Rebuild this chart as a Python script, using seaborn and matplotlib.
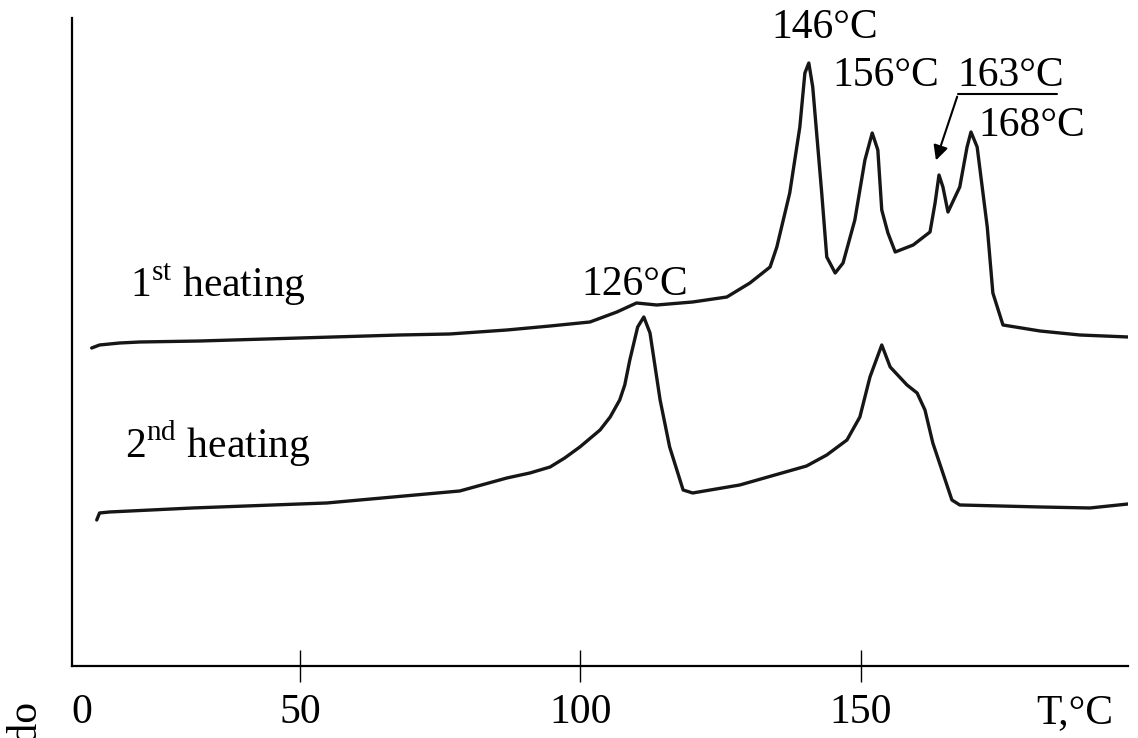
import matplotlib
matplotlib.use("Agg")
import matplotlib.pyplot as plt
import pandas as pd
import seaborn as sns

# DSC traces (temperature in the axis units, heat flow in a.u.)
t_first = [12.9, 14.3, 17.9, 21.5, 32.2, 50.0, 67.8, 76.7, 86.9, 94.6, 101.7, 106.5,
           110.0, 113.6, 120.0, 126.1, 130.2, 133.8, 135.0, 137.3, 139.1, 140.0, 140.7,
           141.4, 143.0, 143.9, 145.4, 146.8, 148.9, 150.7, 152.0, 153.0, 153.7, 154.8,
           156.1, 159.3, 162.3, 163.2, 163.9, 164.6, 165.5, 167.6, 168.9, 169.6, 170.7,
           172.5, 173.5, 175.3, 181.9, 189.0, 197.6]
hf_first = [3.18, 3.21, 3.23, 3.24, 3.25, 3.28, 3.31, 3.32, 3.36, 3.40, 3.44, 3.54,
            3.63, 3.61, 3.64, 3.69, 3.83, 3.99, 4.19, 4.73, 5.39, 5.93, 6.03,
            5.79, 4.73, 4.09, 3.93, 4.03, 4.46, 5.06, 5.33, 5.16, 4.56, 4.33,
            4.14, 4.21, 4.34, 4.63, 4.91, 4.79, 4.54, 4.79, 5.19, 5.34, 5.19,
            4.39, 3.73, 3.41, 3.35, 3.31, 3.29]

t_second = [13.8, 14.3, 16.1, 30.9, 54.8, 78.5, 86.9, 91.0, 94.6, 97.2, 99.9, 103.5,
            105.3, 107.0, 107.9, 108.8, 110.2, 111.3, 112.4, 114.2, 115.9, 118.3, 120.0,
            128.4, 140.3, 143.9, 147.5, 149.8, 151.6, 153.7, 155.2, 158.2, 160.0, 161.4,
            162.8, 166.2, 167.6, 181.9, 190.8, 197.6]
hf_second = [1.46, 1.53, 1.54, 1.58, 1.63, 1.75, 1.88, 1.93, 1.99, 2.08, 2.19, 2.36,
             2.49, 2.66, 2.81, 3.06, 3.39, 3.49, 3.33, 2.66, 2.19, 1.76, 1.73,
             1.81, 2.00, 2.11, 2.26, 2.49, 2.89, 3.21, 2.99, 2.81, 2.73, 2.56,
             2.23, 1.66, 1.61, 1.59, 1.58, 1.62]

x_ticks = [50, 100, 150]
x_tick_labels = ["50", "100", "150"]

df = pd.concat([
    pd.DataFrame({"T": t_first, "hf": hf_first, "run": "1st"}),
    pd.DataFrame({"T": t_second, "hf": hf_second, "run": "2nd"}),
])

sns.set_style("white")
plt.rcParams["font.family"] = ["Liberation Serif", "DejaVu Serif"]
plt.rcParams["mathtext.fontset"] = "custom"
plt.rcParams["mathtext.rm"] = "Liberation Serif"
plt.rcParams["text.color"] = "black"
plt.rcParams["xtick.color"] = "black"

fig = plt.figure(figsize=(11.38, 7.38), dpi=100)
ax = fig.add_axes([0.0633, 0.0976, 0.928, 0.878])

sns.lineplot(data=df, x="T", y="hf", units="run", estimator=None, sort=False,
             color="#161616", linewidth=2.4, ax=ax)

ax.set_xlim(9.4, 197.6)
ax.set_ylim(0, 6.48)
ax.set_xlabel("")
ax.set_ylabel("")
ax.set_yticks([])
ax.set_xticks(x_ticks)
ax.set_xticklabels(x_tick_labels, fontsize=30)
ax.tick_params(axis="x", bottom=True, direction="inout", length=23, width=1.0,
               color="black", labelcolor="black", pad=8)

for side in ["top", "right"]:
    ax.spines[side].set_visible(False)
for side in ["left", "bottom"]:
    ax.spines[side].set_color("black")
    ax.spines[side].set_linewidth(1.6)

fs = 30
# peak labels
ax.text(143.6, 6.38, "146°C", fontsize=fs, ha="center", va="center")
ax.text(154.5, 5.90, "156°C", fontsize=fs, ha="center", va="center")
ax.text(176.6, 5.90, "163°C", fontsize=fs, ha="center", va="center")
ax.text(180.5, 5.40, "168°C", fontsize=fs, ha="center", va="center")
ax.text(109.7, 3.81, "126°C", fontsize=fs, ha="center", va="center")

# underline and arrow for the small 163 peak
ax.plot([167.3, 184.9], [5.72, 5.72], color="black", linewidth=1.5)
ax.annotate("", xy=(163.2, 5.03), xytext=(167.3, 5.72),
            arrowprops=dict(arrowstyle="-|>", color="black", lw=1.5, mutation_scale=22))

# curve labels
ax.text(19.7, 3.69, r"1$^{\mathrm{st}}$ heating", fontsize=fs, ha="left", va="baseline")
ax.text(18.8, 2.08, r"2$^{\mathrm{nd}}$ heating", fontsize=fs, ha="left", va="baseline")

# origin label and axis name in line with tick labels
ax.text(11.1, -0.47, "0", fontsize=fs, ha="center", va="center", clip_on=False)
ax.text(188.1, -0.47, "T,°C", fontsize=fs, ha="center", va="center", clip_on=False)

# cut off axis name at the lower left (cut in the original too)
fig.text(0.022, 0.0515, "endo", fontsize=fs, rotation=90, ha="center", va="top")

fig.savefig("out.png", dpi=100)
